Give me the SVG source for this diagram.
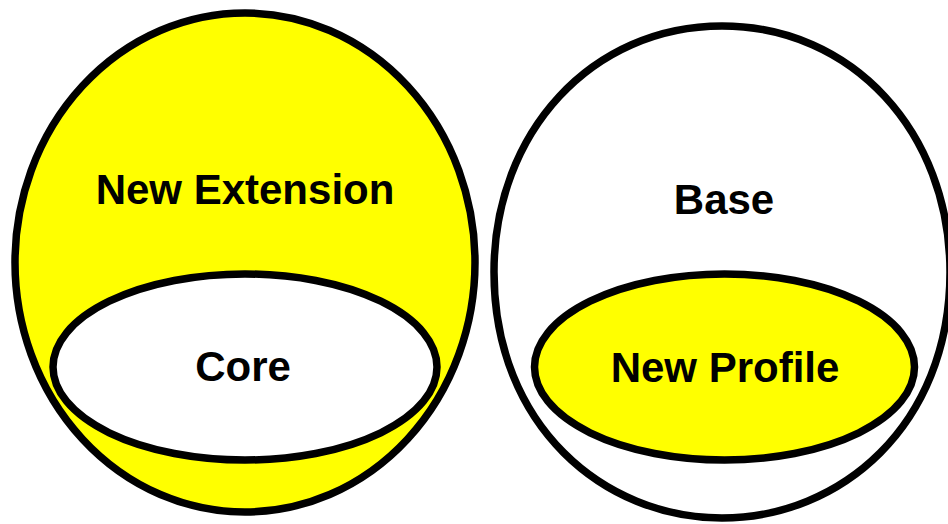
<svg xmlns="http://www.w3.org/2000/svg" width="948" height="524" viewBox="0 0 948 524">
  <style>
    .outline { stroke: #000; stroke-width: 7.5; }
    .yellow { fill: #ffff00; }
    .white { fill: #fff; }
    .label { font-family: "Liberation Sans", Arial, sans-serif; font-weight: bold; font-size: 42px; fill: #000; text-anchor: middle; }
  </style>
  <rect width="948" height="524" fill="#fff"/>

  <g id="new-extension">
    <ellipse class="outline yellow" cx="245" cy="262.5" rx="230" ry="249.5"/>
    <text class="label" x="245" y="204">New Extension</text>
  </g>

  <g id="core">
    <ellipse class="outline white" cx="245" cy="367" rx="192" ry="93"/>
    <text class="label" x="243" y="381">Core</text>
  </g>

  <g id="base">
    <!-- slightly fuller than a true ellipse along the lower sides -->
    <path class="outline white" d="M950,272 C950,426 840,518 722,518 C604,518 494,426 494,272 C494,132 592,26 722,26 C852,26 950,132 950,272 Z"/>
    <text class="label" x="724" y="214">Base</text>
  </g>

  <g id="new-profile">
    <ellipse class="outline yellow" cx="724.5" cy="367" rx="190" ry="93"/>
    <text class="label" x="725" y="382">New Profile</text>
  </g>

  <g id="connectors"/>
</svg>
